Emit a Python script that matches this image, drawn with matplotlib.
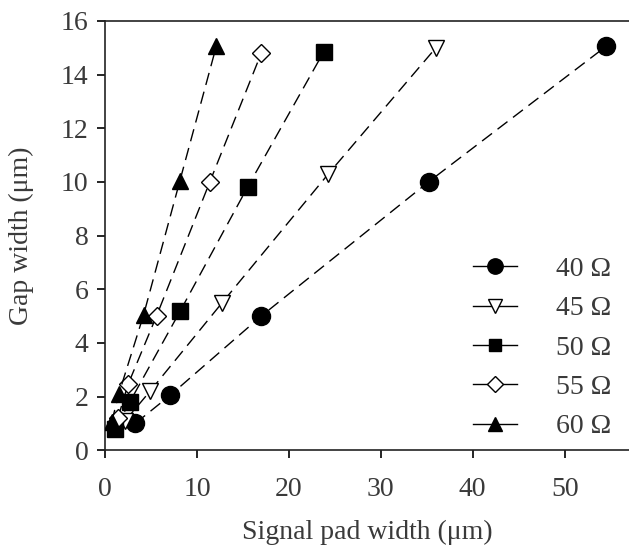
import matplotlib
matplotlib.use("Agg")
import matplotlib.pyplot as plt
from matplotlib.lines import Line2D

plt.rcParams['font.family'] = ['Liberation Serif', 'DejaVu Serif']

# data (signal pad width vs gap width, both in um)
labels = ["40 Ω", "45 Ω", "50 Ω", "55 Ω", "60 Ω"]
x_40 = [3.3, 7.1, 17.0, 35.2, 54.5]
y_40 = [1.0, 2.05, 5.0, 10.0, 15.05]
x_45 = [2.2, 4.9, 12.75, 24.3, 36.0]
y_45 = [1.1, 2.2, 5.5, 10.3, 15.0]
x_50 = [1.1, 2.7, 8.2, 15.5, 23.8]
y_50 = [0.8, 1.8, 5.2, 9.8, 14.85]
x_55 = [1.4, 2.5, 5.6, 11.4, 17.0]
y_55 = [1.2, 2.45, 5.0, 10.0, 14.8]
x_60 = [0.72, 1.5, 4.2, 8.15, 12.1]
y_60 = [1.05, 2.1, 5.05, 10.05, 15.05]

series = [(x_40, y_40), (x_45, y_45), (x_50, y_50), (x_55, y_55), (x_60, y_60)]
markers = ["o", "v", "s", "D", "^"]
faces = ["black", "white", "black", "white", "black"]
msizes = [13, 12, 11, 9.5, 12]

TEXT = "#3a3a3a"
FS = 20

fig = plt.figure(figsize=(6.29, 5.49), dpi=100)
ax = fig.add_axes([0.167, 0.180, 0.833, 0.782])

handles = []
for (xs, ys), m, fc, ms, lab in zip(series, markers, faces, msizes, labels):
    ax.plot(xs, ys, color="black", lw=1.0, linestyle=(0, (9, 5)),
            marker=m, markersize=ms, markerfacecolor=fc,
            markeredgecolor="black", markeredgewidth=1.0, zorder=3)
    # legend shows solid lines through a single marker
    handles.append(Line2D([], [], color="black", lw=1.0, marker=m, markersize=ms * 0.85,
                          markerfacecolor=fc, markeredgecolor="black", label=lab))

ax.set_xlim(0, 57)
ax.set_ylim(0, 16)
ax.set_xticks(range(0, 51, 10))
ax.set_yticks(range(0, 17, 2))

ax.spines["right"].set_visible(False)
for s in ["left", "bottom", "top"]:
    ax.spines[s].set_linewidth(1.2)
    ax.spines[s].set_color("#222222")

ax.tick_params(direction="out", length=6, width=1.2, labelsize=FS,
               labelcolor=TEXT, top=False, right=False)
ax.tick_params(axis="y", pad=6)
ax.tick_params(axis="x", pad=13)

ax.set_xlabel("Signal pad width (μm)", fontsize=FS, color=TEXT, labelpad=13)
ax.set_ylabel("Gap width (μm)", fontsize=FS, color=TEXT, labelpad=19)

leg = ax.legend(handles=handles, loc="center left",
                bbox_to_anchor=(0.752, 0.366), bbox_transform=fig.transFigure,
                frameon=False, fontsize=FS, handlelength=1.6, handletextpad=1.4,
                labelspacing=0.5, numpoints=1, borderpad=0, borderaxespad=0)
for t in leg.get_texts():
    t.set_color(TEXT)

fig.savefig("out.png", dpi=100)
